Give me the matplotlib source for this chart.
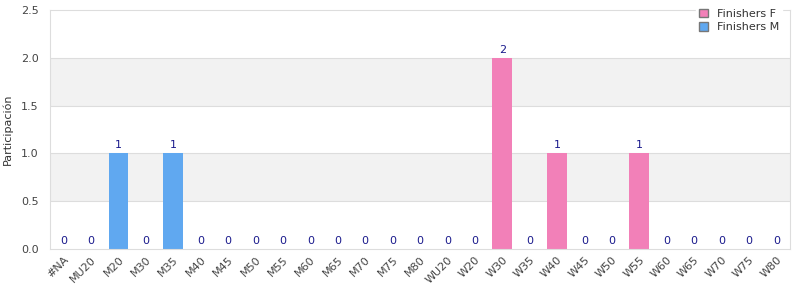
import matplotlib.pyplot as plt
import numpy as np
from matplotlib.patches import Patch

categorias = ['#NA', 'MU20', 'M20', 'M30', 'M35', 'M40', 'M45', 'M50', 'M55', 'M60',
              'M65', 'M70', 'M75', 'M80', 'WU20', 'W20', 'W30', 'W35', 'W40', 'W45',
              'W50', 'W55', 'W60', 'W65', 'W70', 'W75', 'W80']
finishers_m = [0, 0, 1, 0, 1, 0, 0, 0, 0, 0, 0, 0, 0, 0]
finishers_f = [0, 0, 2, 0, 1, 0, 0, 1, 0, 0, 0, 0, 0]

azul = '#60a8f0'
rosa = '#f280b8'

valores = finishers_m + finishers_f
colores = [azul] * len(finishers_m) + [rosa] * len(finishers_f)
x = np.arange(len(categorias))

fig = plt.figure(figsize=(8, 3), dpi=100)
ax = fig.add_axes([0.0625, 0.17, 0.925, 0.797])

# bandas grises
for y0 in [0.5, 1.5]:
    ax.axhspan(y0, y0 + 0.5, color='#f2f2f2', zorder=0, lw=0)
for y in [0.5, 1.0, 1.5, 2.0]:
    ax.axhline(y, color='#dddddd', lw=0.8, zorder=1)

ax.bar(x, valores, width=0.72, color=colores, zorder=2)
for xi, v in zip(x, valores):
    ax.text(xi, v + 0.03, str(v), ha='center', va='bottom', fontsize=8, color='#1a1a8c')

ax.set_xlim(-0.5, len(categorias) - 0.5)
ax.set_ylim(0, 2.5)
ax.set_yticks([0, 0.5, 1.0, 1.5, 2.0, 2.5])
ax.set_yticklabels(['0.0', '0.5', '1.0', '1.5', '2.0', '2.5'])
ax.set_xticks(x)
ax.set_xticklabels(categorias, rotation=45, ha='right', rotation_mode='anchor')
ax.tick_params(axis='both', length=0, labelsize=8, colors='#444444', pad=4)
ax.tick_params(axis='y', pad=8)
ax.set_ylabel('Participación', fontsize=8, color='#333333')
ax.yaxis.set_label_coords(-0.05, 0.5)
for s in ax.spines.values():
    s.set_color('#dddddd')

handles = [Patch(facecolor=rosa, edgecolor='#777777', label='Finishers F'),
           Patch(facecolor=azul, edgecolor='#777777', label='Finishers M')]
leg = fig.legend(handles=handles, loc='upper right', bbox_to_anchor=(0.985, 1.0),
                 fontsize=8, frameon=True, fancybox=False, handlelength=0.8,
                 handleheight=0.8, labelspacing=0.3, borderpad=0.3)
leg.get_frame().set_edgecolor('white')
leg.get_frame().set_facecolor('white')
leg.get_frame().set_alpha(1)
for t in leg.get_texts():
    t.set_color('#333333')

fig.savefig('out.png', dpi=100)
